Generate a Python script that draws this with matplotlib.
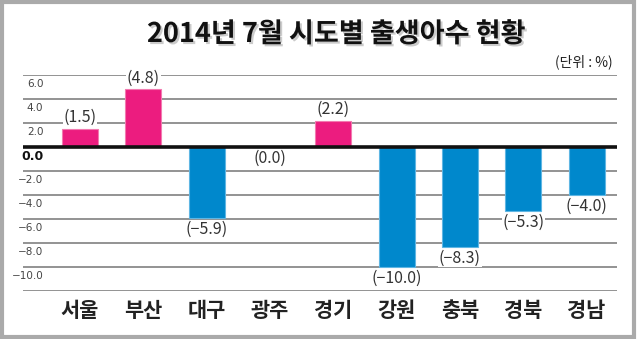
import numpy as np
import matplotlib
matplotlib.use('Agg')
import matplotlib.pyplot as plt
import matplotlib.patheffects as pe
from matplotlib.patches import Rectangle

plt.rcParams['font.family'] = ['Noto Sans CJK KR', 'DejaVu Sans']

# data
regions = ['서울', '부산', '대구', '광주', '경기', '강원', '충북', '경북', '경남']
values = [1.5, 4.8, -5.9, 0.0, 2.2, -10.0, -8.3, -5.3, -4.0]
ticks = [6, 4, 2, 0, -2, -4, -6, -8, -10]

pink = '#EC1C7F'
blue = '#0088CC'

fig = plt.figure(figsize=(6.4, 3.39), dpi=100)

# outer frame
fig.patches.append(Rectangle((0.003, 0.006), 0.988, 0.988, transform=fig.transFigure,
                             fill=False, ec='#aaaaaa', lw=3))

ax = fig.add_axes([23 / 640, 1 - 291 / 339, (617 - 23) / 640, (291 - 75) / 339])
ax.set_xlim(-0.9, 8.48)
ax.set_ylim(-12, 6)
ax.axis('off')

# grid lines (bottom line at -12)
for t in ticks + [-12]:
    if t != 0:
        ax.axhline(t, color='#8a8a8a', lw=1.3, zorder=1)

x = np.arange(len(regions))
colors = [pink if v > 0 else blue for v in values]
edges = ['#f27ab0' if v > 0 else '#5fb6e3' for v in values]
ax.bar(x, values, width=0.57, color=colors, edgecolor=edges, lw=0.8, zorder=2)
ax.axhline(0, color='#111111', lw=2.6, zorder=3)

# tick labels under each line
for t in ticks:
    lab = f'{t:.1f}'.replace('-', '−')
    if t == 0:
        ax.text(-0.58, t - 0.8, lab, ha='right', va='center', fontsize=9,
                fontweight='bold', color='#111111', family='DejaVu Sans')
    else:
        ax.text(-0.58, t - 0.75, lab, ha='right', va='center', fontsize=7.5,
                color='#444444', family='DejaVu Sans')

# value labels
for xi, v in zip(x, values):
    lab = '(' + f'{v:.1f}'.replace('-', '−') + ')'
    if v > 0:
        ax.text(xi, v + 0.25, lab, ha='center', va='bottom', fontsize=11.5,
                color='#333333', zorder=4,
                bbox=dict(fc='white', ec='none', pad=0.5))
    else:
        ax.text(xi, v - 0.25, lab, ha='center', va='top', fontsize=11.5,
                color='#333333', zorder=4,
                bbox=dict(fc='white', ec='none', pad=0.5))

# category labels
for xi, r in zip(x, regions):
    ax.text(xi, -13.6, r, ha='center', va='center', fontsize=15,
            fontweight='bold', color='#222222')

fig.text(336 / 640, 1 - 34 / 339, '2014년 7월 시도별 출생아수 현황', ha='center', va='center',
         fontsize=19.5, fontweight='bold', color='#111111',
         path_effects=[pe.withSimplePatchShadow(offset=(1.5, -1.5), shadow_rgbFace='#999999', alpha=0.5)])
fig.text(613 / 640, 1 - 62 / 339, '(단위 : %)', ha='right', va='center',
         fontsize=10, color='#222222')

fig.savefig('out.png', dpi=100)
